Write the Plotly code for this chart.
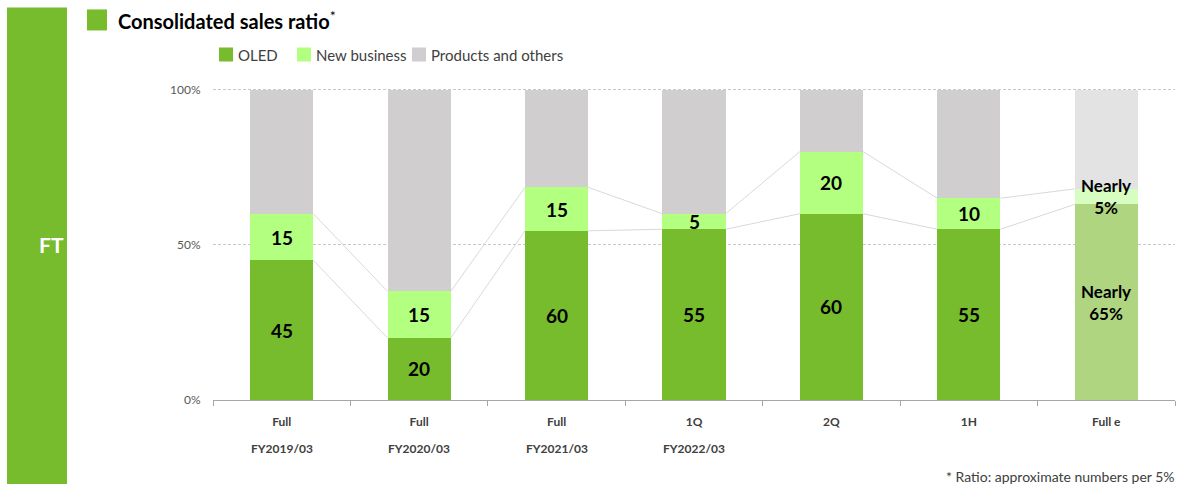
import plotly.graph_objects as go

# ---- data (bar heights as drawn; labels as printed) ----
categories = ["Full", "Full", "Full", "1Q", "2Q", "1H", "Full e"]
fiscal_years = ["FY2019/03", "FY2020/03", "FY2021/03", "FY2022/03", "", "", ""]
oled = [45, 20, 54.5, 55, 60, 55, 63]
new_business = [15, 15, 14, 5, 20, 10, 5]
products_others = [40, 65, 31.5, 40, 20, 35, 32]
oled_labels = ["45", "20", "60", "55", "60", "55", "Nearly<br>65%"]
new_labels = ["15", "15", "15", "5", "20", "10", "Nearly<br>5%"]
series_names = ["OLED", "New business", "Products and others"]
y_ticks = [0, 50, 100]
y_ticktext = ["0%", "50%", "100%"]

# ---- styles ----
W, H = 1179, 484
YMAX = 100.5
PX0, PX1, PY1 = 213, 1175, 400
PY0 = PY1 - 310 * YMAX / 100.0
GREEN = "#77bc2c"
LIGHT = "#b3ff80"
GRAY = "#d0cece"
EST_GREEN = "#afd580"
EST_LIGHT = "#d8fdc0"
EST_GRAY = "#e3e3e3"
FONT = "Lato"
BAR_W = 0.46

n = len(categories)
xs = list(range(n))

def px(x):
    return (x - PX0) / (PX1 - PX0)

def py(y):
    return (PY1 - y) / (PY1 - PY0)

est = [c.endswith("e") for c in categories]
fig = go.Figure()
fig.add_bar(x=xs, y=oled, name=series_names[0], width=BAR_W,
            marker=dict(color=[EST_GREEN if e else GREEN for e in est], line=dict(width=0)))
fig.add_bar(x=xs, y=new_business, name=series_names[1], width=BAR_W,
            marker=dict(color=[EST_LIGHT if e else LIGHT for e in est], line=dict(width=0)))
fig.add_bar(x=xs, y=products_others, name=series_names[2], width=BAR_W,
            marker=dict(color=[EST_GRAY if e else GRAY for e in est], line=dict(width=0)))

# connector lines between bars
tops1 = oled
tops2 = [a + b for a, b in zip(oled, new_business)]
for tops in (tops1, tops2):
    lx, ly = [], []
    for i in range(n - 1):
        lx += [i + BAR_W / 2, i + 1 - BAR_W / 2, None]
        ly += [tops[i], tops[i + 1], None]
    fig.add_scatter(x=lx, y=ly, mode="lines", line=dict(color="#d9d9d9", width=1),
                    hoverinfo="skip", showlegend=False)

annotations = []
for i in range(n):
    sz = 17 if est[i] else 19
    annotations.append(dict(x=i, y=oled[i] / 2, xref="x", yref="y", text="<b>%s</b>" % oled_labels[i],
                            showarrow=False, yanchor="middle",
                            font=dict(family=FONT, size=sz, color="black")))
    annotations.append(dict(x=i, y=oled[i] + new_business[i] / 2, xref="x", yref="y",
                            text="<b>%s</b>" % new_labels[i], showarrow=False, yanchor="middle",
                            font=dict(family=FONT, size=sz, color="black")))
    if fiscal_years[i]:
        annotations.append(dict(x=i, y=py(448), xref="x", yref="paper", text="<b>%s</b>" % fiscal_years[i],
                                showarrow=False, yanchor="middle",
                                font=dict(family=FONT, size=12, color="#404040")))

# title
annotations.append(dict(x=px(116), y=py(21), xref="paper", yref="paper", xanchor="left", yanchor="middle",
                        text="<b>Consolidated sales ratio</b><sup>*</sup>", showarrow=False,
                        font=dict(family=FONT, size=20, color="black")))
# FT
annotations.append(dict(x=px(37), y=py(245), xref="paper", yref="paper", text="<b>FT</b>", showarrow=False,
                        yanchor="middle", font=dict(family=FONT, size=21, color="white")))
# footnote
annotations.append(dict(x=px(1177), y=py(476), xref="paper", yref="paper", xanchor="right", yanchor="middle",
                        text="* Ratio: approximate numbers per 5%", showarrow=False,
                        font=dict(family=FONT, size=14, color="#404040")))

shapes = [
    dict(type="rect", xref="paper", yref="paper", x0=px(7), x1=px(67), y0=py(8), y1=py(490),
         fillcolor=GREEN, line=dict(width=0), layer="above"),
    dict(type="rect", xref="paper", yref="paper", x0=px(87), x1=px(107), y0=py(10), y1=py(31),
         fillcolor=GREEN, line=dict(width=0)),
]
# manual legend
leg_x = [219, 297, 412]
leg_cols = [GREEN, LIGHT, GRAY]
for name, lxp, col in zip(series_names, leg_x, leg_cols):
    shapes.append(dict(type="rect", xref="paper", yref="paper", x0=px(lxp), x1=px(lxp + 14),
                       y0=py(48), y1=py(62), fillcolor=col, line=dict(width=0)))
    annotations.append(dict(x=px(lxp + 17), y=py(55), xref="paper", yref="paper", xanchor="left",
                            yanchor="middle", text=name, showarrow=False,
                            font=dict(family=FONT, size=15, color="#404040")))

fig.update_layout(
    width=W, height=H,
    margin=dict(l=PX0, r=W - PX1, t=PY0, b=H - PY1, pad=0),
    barmode="stack",
    showlegend=False,
    plot_bgcolor="white", paper_bgcolor="white",
    annotations=annotations, shapes=shapes,
    xaxis=dict(range=[-0.5, n - 0.5], tickvals=xs, ticktext=["<b>%s</b>" % c for c in categories],
               tickfont=dict(family=FONT, size=12, color="#404040"), ticks="", ticklabelstandoff=11,
               showline=True, linecolor="#a6a6a6", linewidth=1, showgrid=False, zeroline=False,
               minor=dict(tickvals=[i - 0.5 for i in range(n + 1)], ticks="outside", ticklen=5,
                          tickcolor="#a6a6a6", showgrid=False)),
    yaxis=dict(range=[0, YMAX], tickvals=y_ticks, ticktext=y_ticktext,
               tickfont=dict(family=FONT, size=12, color="#595959"), ticks="outside", ticklen=9,
               tickcolor="rgba(0,0,0,0)", showgrid=True, gridcolor="#c8c8c8", griddash="3px,2px",
               gridwidth=1, zeroline=False, showline=False),
)

fig.write_html("out.html", config={"displayModeBar": False},
               post_script="document.body.style.margin='0';")
